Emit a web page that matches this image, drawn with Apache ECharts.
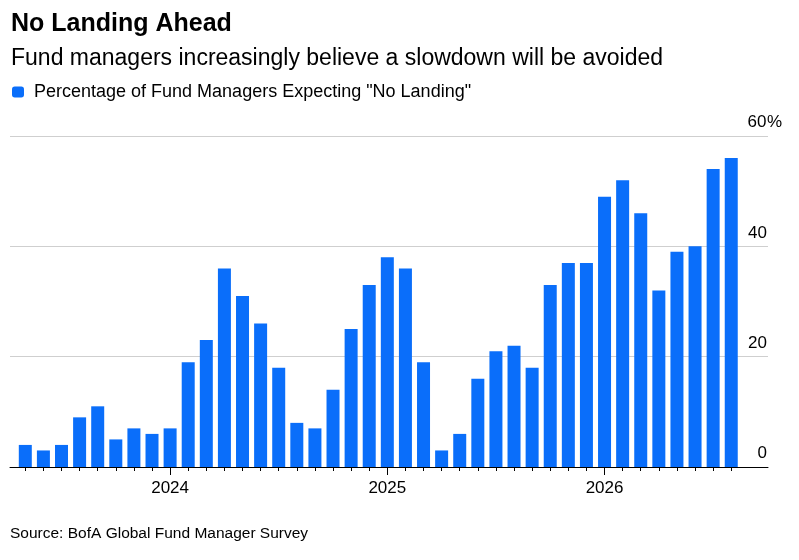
<!DOCTYPE html>
<html>
<head>
<meta charset="UTF-8">
<script type="text/javascript" src="https://cdn.jsdelivr.net/npm/echarts@6/dist/echarts.min.js"></script>
<style>
  html, body { margin: 0; padding: 0; background: #fff; }
</style>
</head>
<body>
<div id="chartmain" style="width:799px; height:560px;"></div>
<script type="text/javascript">
// monthly survey dates, May 2023 .. Aug 2026
var months = ['2023-05','2023-06','2023-07','2023-08','2023-09','2023-10','2023-11','2023-12',
  '2024-01','2024-02','2024-03','2024-04','2024-05','2024-06','2024-07','2024-08','2024-09','2024-10','2024-11','2024-12',
  '2025-01','2025-02','2025-03','2025-04','2025-05','2025-06','2025-07','2025-08','2025-09','2025-10','2025-11','2025-12',
  '2026-01','2026-02','2026-03','2026-04','2026-05','2026-06','2026-07','2026-08'];
// % of fund managers expecting "no landing"
var noLanding = [4, 3, 4, 9, 11, 5, 7, 6, 7, 19, 23, 36, 31, 26, 18, 8, 7, 14, 25, 33,
  38, 36, 19, 3, 6, 16, 21, 22, 18, 33, 37, 37, 49, 52, 46, 32, 39, 40, 54, 56];
var yTicks = [0, 20, 40, 60];

var font = '"Liberation Sans", Arial, sans-serif';
var isJan = function (i, v) { return months[i].slice(5) === '01'; };

var option = {
    animation: false,
    textStyle: { fontFamily: font },
    title: [
        { text: 'No Landing Ahead', left: 11, top: 12, padding: 0,
          textStyle: { fontSize: 25, fontWeight: 'bold', color: '#000', fontFamily: font } },
        { text: 'Fund managers increasingly believe a slowdown will be avoided', left: 11, top: 47, padding: 0,
          textStyle: { fontSize: 23, fontWeight: 'normal', color: '#000', fontFamily: font } },
        { text: 'Source: BofA Global Fund Manager Survey', left: 10, top: 526, padding: 0,
          textStyle: { fontSize: 15.5, fontWeight: 'normal', color: '#000', fontFamily: font } }
    ],
    legend: {
        left: 12, top: 83, padding: 0,
        icon: 'roundRect',
        itemWidth: 12, itemHeight: 11,
        textStyle: { fontSize: 18, color: '#000', padding: [0, 0, 0, 5] },
        data: ['Percentage of Fund Managers Expecting "No Landing"']
    },
    grid: [
        // full width: gridlines and baseline
        { left: 10, right: 31, top: 136, bottom: 93 },
        // bars
        { left: 16.25, right: 58.7, top: 136, bottom: 93 }
    ],
    xAxis: [
        { gridIndex: 0, type: 'value', min: 0, max: 1,
          axisLine: { show: true, lineStyle: { color: '#000', width: 1 } },
          axisTick: { show: false }, axisLabel: { show: false }, splitLine: { show: false } },
        { gridIndex: 1, type: 'category', data: months,
          axisLine: { show: false },
          axisTick: { show: true, alignWithLabel: true, length: 4, interval: 0,
                      lineStyle: { color: '#000' } },
          axisLabel: { show: false } },
        { gridIndex: 1, type: 'category', data: months, position: 'bottom',
          axisLine: { show: false },
          axisTick: { show: true, alignWithLabel: true, length: 8, interval: isJan,
                      lineStyle: { color: '#000' } },
          axisLabel: { show: true, interval: isJan, margin: 13, fontSize: 17, color: '#000',
                       formatter: function (v) { return v.slice(0, 4); } } }
    ],
    yAxis: [
        { gridIndex: 0, type: 'value', min: 0, max: 60, interval: 20, position: 'right',
          axisLine: { show: false }, axisTick: { show: false },
          splitLine: { lineStyle: { color: '#cfcfcf', width: 1 } },
          axisLabel: { inside: true, margin: 21, align: 'left', verticalAlign: 'bottom', padding: [0, 0, 5, 0],
                       fontSize: 17, color: '#000',
                       formatter: function (v) { return v === 60 ? '{n|60}{p|%}' : '{n|' + v + '}'; },
                       rich: { n: { fontSize: 17, color: '#000', width: 20, align: 'right' },
                               p: { fontSize: 17, color: '#000' } } } },
        { gridIndex: 1, type: 'value', min: 0, max: 60, interval: 20, show: false }
    ],
    series: [
        { name: 'Percentage of Fund Managers Expecting "No Landing"', type: 'bar',
          xAxisIndex: 1, yAxisIndex: 1, barWidth: 13,
          itemStyle: { color: '#0a6efa' },
          data: noLanding }
    ]
};

var myChart = echarts.init(document.getElementById('chartmain'));
myChart.setOption(option);
</script>
</body>
</html>
